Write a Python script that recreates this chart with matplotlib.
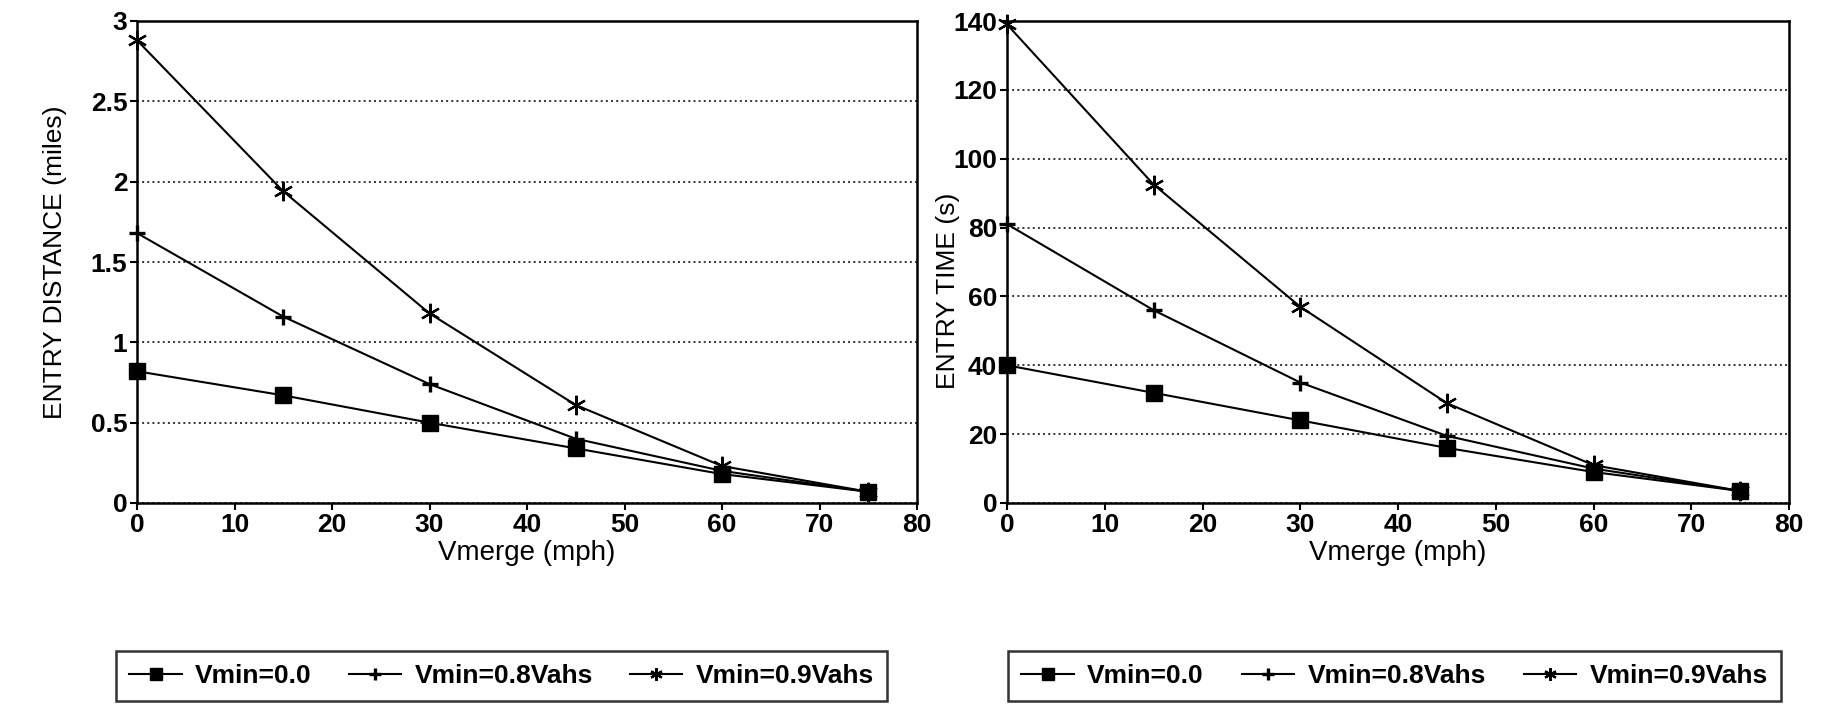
import numpy as np
import matplotlib
matplotlib.use("Agg")
import matplotlib.pyplot as plt

# ── data ──
vmerge = [0, 15, 30, 45, 60, 75]
labels = ["Vmin=0.0", "Vmin=0.8Vahs", "Vmin=0.9Vahs"]

dist_v00 = [0.82, 0.67, 0.50, 0.34, 0.18, 0.07]
dist_v08 = [1.68, 1.16, 0.74, 0.40, 0.20, 0.07]
dist_v09 = [2.88, 1.94, 1.18, 0.61, 0.23, 0.07]

time_v00 = [40, 32, 24, 16, 9, 3.5]
time_v08 = [81, 56, 35, 19.5, 10, 3.5]
time_v09 = [139, 92.5, 57, 29, 11, 3.5]

plt.rcParams["font.family"] = ["Liberation Sans", "DejaVu Sans"]

markers = [dict(marker="s", ms=12, mfc="black", mec="black"),
           dict(marker="+", ms=12, mew=2.4, mec="black"),
           dict(marker=(6, 2, 0), ms=14, mew=1.6, mec="black")]

fig = plt.figure(figsize=(18.25, 7.05), dpi=100)
ax1 = fig.add_axes([137 / 1825, 1 - 503 / 705, 780 / 1825, 482 / 705])
ax2 = fig.add_axes([1007 / 1825, 1 - 503 / 705, 782 / 1825, 482 / 705])


def draw(ax, series, ylim, yticks, ylabel, label_xy, legend_box):
    handles = []
    for ys, lab, mk in zip(series, labels, markers):
        h, = ax.plot(vmerge, ys, color="black", lw=1.5, label=lab, clip_on=False, **mk)
        handles.append(h)
    ax.set_xlim(0, 80)
    ax.set_ylim(*ylim)
    ax.set_xticks(np.arange(0, 81, 10))
    ax.set_yticks(yticks)
    ax.set_yticklabels([f"{t:g}" for t in yticks])
    ax.tick_params(labelsize=19, length=5, width=1.5, direction="out", pad=2)
    for lab in ax.get_xticklabels() + ax.get_yticklabels():
        lab.set_fontweight("bold")
    for s in ax.spines.values():
        s.set_linewidth(1.8)
    ax.grid(axis="y", ls=":", lw=1.4, color="#333")
    ax.set_axisbelow(True)
    ax.set_xlabel("Vmerge (mph)", fontsize=20, labelpad=2)
    ax.set_ylabel(ylabel, fontsize=19)
    ax.yaxis.set_label_coords(*label_xy)
    leg = fig.legend(handles=handles, loc="upper left", bbox_to_anchor=legend_box,
                     mode="expand", ncol=3, fontsize=19, frameon=True, fancybox=False,
                     edgecolor="black", handlelength=2.0, handletextpad=0.5,
                     borderaxespad=0, borderpad=0.5, columnspacing=1.0)
    leg.get_frame().set_linewidth(1.8)
    for t in leg.get_texts():
        t.set_fontweight("bold")
    for h in leg.legend_handles:
        h.set_markersize(9)


draw(ax1, [dist_v00, dist_v08, dist_v09], (0, 3), [0, 0.5, 1, 1.5, 2, 2.5, 3],
     "ENTRY DISTANCE (miles)", (-0.09, 0.5),
     (116 / 1825, 1 - 703 / 705, 771 / 1825, 52 / 705))
draw(ax2, [time_v00, time_v08, time_v09], (0, 140), list(range(0, 141, 20)),
     "ENTRY TIME (s)", (-0.06, 0.44),
     (1008 / 1825, 1 - 703 / 705, 773 / 1825, 52 / 705))

fig.savefig("out.png", dpi=100)
